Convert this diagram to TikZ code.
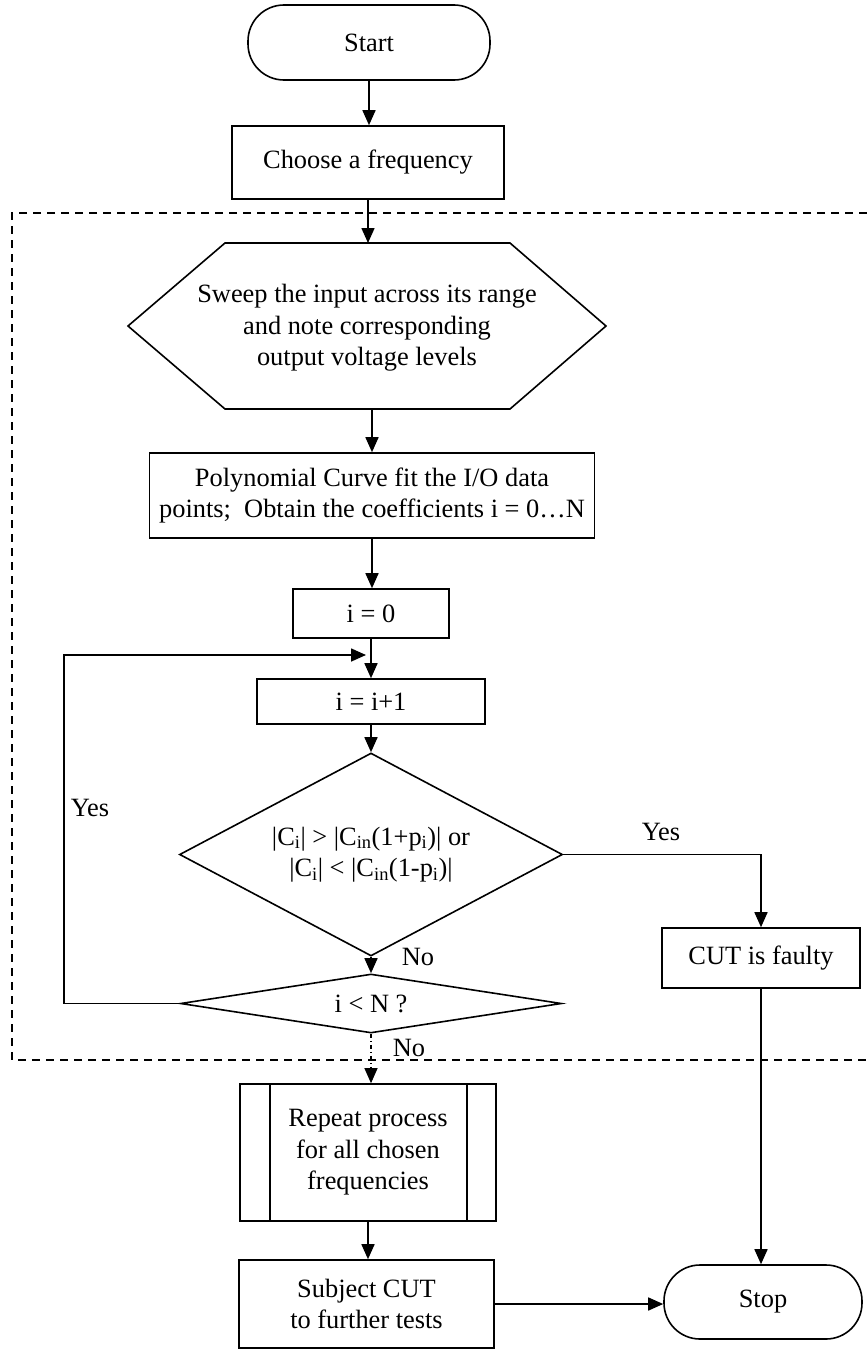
\documentclass[tikz,border=0pt]{standalone}
\usepackage{fontspec}
\setmainfont{Liberation Serif}
\usetikzlibrary{arrows.meta,shapes.geometric,calc}
\newcommand\fz{\fontsize{26.4}{31.5}\selectfont}
\newcommand\sbs[1]{\textsubscript{#1}}
\tikzset{
  base/.style={draw, line width=1.6pt, inner sep=0pt, align=center, font=\fz},
  box/.style={base, rectangle},
  term/.style={base, rectangle, rounded corners=36pt},
  dia/.style={base, diamond},
  arr/.style={line width=1.6pt, -{Triangle[length=15pt,width=13pt]}},
  dotarr/.style={line width=1.1pt, dash pattern=on 4pt off 3pt on 1pt off 3pt, -{Triangle[length=15pt,width=13pt]}},
  lbl/.style={inner sep=0pt, font=\fz},
  region/.style={line width=1.8pt, dash pattern=on 8pt off 6pt},
}
\begin{document}
\begin{tikzpicture}[x=1pt,y=-1pt]
\useasboundingbox (0,0) rectangle (867,1349);
% dashed region
\draw[region] (867,213) -- (12,213) -- (12,1060) -- (867,1060);
% nodes
\node[term, minimum width=242pt, minimum height=75pt] (start) at (369,42.5) {Start};
\node[box, minimum width=272pt, minimum height=73pt] (choose) at (368,162.5) {Choose a frequency};
\draw[line width=1.6pt] (128,326) -- (225,243) -- (510,243) -- (606,326) -- (510,409) -- (225,409) -- cycle;
\node[lbl, align=center] (sweep) at (367,328) {Sweep the input across its range\\and note corresponding\\output voltage levels};
\coordinate (hexT) at (368,243);
\coordinate (hexB) at (372,409);
\node[box, minimum width=445pt, minimum height=85pt] (poly) at (372,495.5) {Polynomial Curve fit the I/O data\\points;\ \ Obtain the coefficients i = 0…N};
\node[box, minimum width=156pt, minimum height=49pt] (i0) at (371,613.5) {i = 0};
\node[box, minimum width=228pt, minimum height=45pt] (ii) at (371,701.5) {i = i+1};
\node[dia, shape aspect=1.887, minimum width=383pt, minimum height=203pt] (d1) at (371,854.5) {|C\sbs{i}| > |C\sbs{in}(1+p\sbs{i})| or\\|C\sbs{i}| < |C\sbs{in}(1-p\sbs{i})|};
\node[dia, shape aspect=6.46, minimum width=381pt, minimum height=59pt] (d2) at (371,1003.5) {i < N ?};
\node[box, minimum width=198pt, minimum height=60pt] (cut) at (761,958) {CUT is faulty};
\node[box, minimum width=256pt, minimum height=137pt] (rep) at (368,1152.5) {Repeat process\\for all chosen\\frequencies};
\draw[line width=1.6pt] ($(rep.north west)+(31,0)$) -- ($(rep.south west)+(31,0)$);
\draw[line width=1.6pt] ($(rep.north east)+(-30,0)$) -- ($(rep.south east)+(-30,0)$);
\node[box, minimum width=255pt, minimum height=88pt] (subj) at (366.5,1304) {Subject CUT\\to further tests};
\node[term, minimum width=198pt, minimum height=74pt] (stop) at (763,1302) {Stop};
% labels
\node[lbl] (yesl) at (90,808) {Yes};
\node[lbl] (yesr) at (661,832) {Yes};
\node[lbl] (no1) at (418,957) {No};
\node[lbl] (no2) at (409,1048) {No};
% connectors
\coordinate (jn) at (366,655);
\coordinate (lc) at (64,655);
\draw[arr] (start.south) -- (start.south |- choose.north);
\draw[arr] (choose.south) -- (hexT);
\draw[arr] (hexB) -- (hexB |- poly.north);
\draw[arr] (poly.south) -- (poly.south |- i0.north);
\draw[arr] (i0.south) -- (i0.south |- ii.north);
\draw[arr] (d2.west) -| (lc) -- (jn);
\draw[arr] (ii.south) -- (d1.north);
\draw[arr] (d1.south) -- (d2.north);
\draw[arr] (d1.east) -| (cut.north);
\draw[dotarr] (d2.south) -- (d2.south |- rep.north);
\draw[arr] (rep.south) -- (rep.south |- subj.north);
\draw[arr] (cut.south) -- (cut.south |- stop.north);
\draw[arr] (subj.east) -- (subj.east -| stop.west);
\end{tikzpicture}
\end{document}
